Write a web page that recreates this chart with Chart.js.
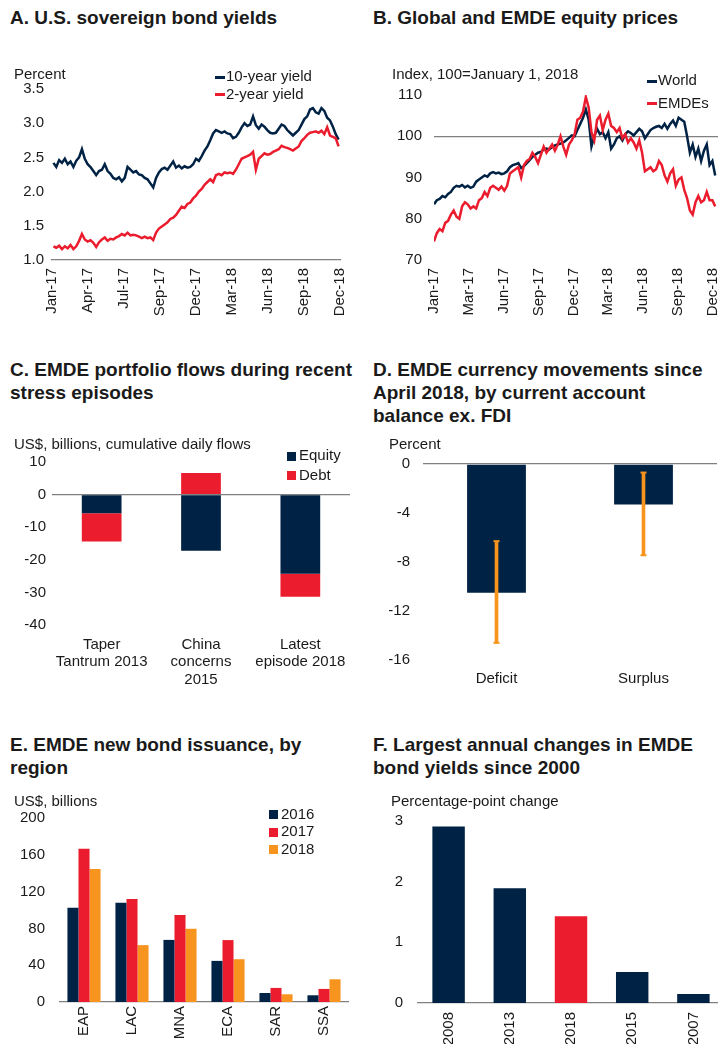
<!DOCTYPE html>
<html>
<head>
<meta charset="utf-8">
<script src="https://cdn.jsdelivr.net/npm/chart.js@4.4.1/dist/chart.umd.min.js"></script>
<style>
  body { margin: 0; width: 718px; height: 1044px; overflow: hidden; background: #fff; position: relative;
         font-family: Arial, "Liberation Sans", sans-serif; color: #1a1a1a; }
  .title { position: absolute; font-weight: bold; font-size: 19px; line-height: 23px; white-space: nowrap; }
  .box { position: absolute; }
  .leg { position: absolute; font-size: 15px; line-height: 18px; white-space: nowrap; }
  .leg i { display: inline-block; vertical-align: middle; }
</style>
</head>
<body>
<div class="title" style="left:10px;top:6px">A. U.S. sovereign bond yields</div>
<div class="title" style="left:373px;top:6px">B. Global and EMDE equity prices</div>
<div class="title" style="left:10px;top:358px">C. EMDE portfolio flows during recent<br>stress episodes</div>
<div class="title" style="left:373px;top:358px">D. EMDE currency movements since<br>April 2018, by current account<br>balance ex. FDI</div>
<div class="title" style="left:10px;top:733px">E. EMDE new bond issuance, by<br>region</div>
<div class="title" style="left:373px;top:733px">F. Largest annual changes in EMDE<br>bond yields since 2000</div>

<div class="box" style="left:0;top:60px;width:350px;height:262px"><canvas id="chartA"></canvas></div>
<div class="box" style="left:362px;top:60px;width:356px;height:262px"><canvas id="chartB"></canvas></div>
<div class="box" style="left:0;top:430px;width:355px;height:270px"><canvas id="chartC"></canvas></div>
<div class="box" style="left:362px;top:430px;width:361px;height:270px"><canvas id="chartD"></canvas></div>
<div class="box" style="left:0;top:790px;width:355px;height:254px"><canvas id="chartE"></canvas></div>
<div class="box" style="left:362px;top:790px;width:362px;height:270px"><canvas id="chartF"></canvas></div>

<script>
// A. US yields, weekly, Jan-17 .. Dec-18
const tickLabelsA = ['Jan-17', 'Apr-17', 'Jul-17', 'Sep-17', 'Dec-17', 'Mar-18', 'Jun-18', 'Sep-18', 'Dec-18'];
const tickWeeksA = [-0.5, 12.1, 24.75, 37.4, 50, 62.6, 75.25, 87.9, 100.5];
const yield10 = [
  2.42, 2.36, 2.46, 2.42, 2.48, 2.40, 2.44, 2.36, 2.45, 2.50,
  2.62, 2.48, 2.40, 2.36, 2.30, 2.24, 2.30, 2.32, 2.40, 2.30,
  2.26, 2.20, 2.18, 2.21, 2.15, 2.20, 2.36, 2.32, 2.28, 2.30,
  2.25, 2.24, 2.20, 2.18, 2.12, 2.06, 2.20, 2.28, 2.33, 2.35,
  2.32, 2.38, 2.44, 2.35, 2.38, 2.34, 2.37, 2.35, 2.36, 2.40,
  2.48, 2.45, 2.52, 2.60, 2.66, 2.75, 2.85, 2.90, 2.88, 2.86,
  2.88, 2.85, 2.84, 2.78, 2.80, 2.86, 2.94, 3.00, 2.96, 2.98,
  3.10, 2.97, 2.92, 2.98, 2.95, 2.90, 2.86, 2.85, 2.86, 2.92,
  2.98, 2.96, 2.90, 2.86, 2.82, 2.86, 2.90, 2.98, 3.06, 3.10,
  3.20, 3.22, 3.16, 3.14, 3.22, 3.18, 3.08, 3.04, 2.95, 2.84,
  2.76
];
const yield2 = [
  1.20, 1.18, 1.21, 1.16, 1.20, 1.17, 1.22, 1.16, 1.20, 1.28,
  1.38, 1.30, 1.27, 1.29, 1.25, 1.19, 1.26, 1.30, 1.33, 1.28,
  1.31, 1.30, 1.33, 1.35, 1.38, 1.36, 1.40, 1.36, 1.37, 1.36,
  1.34, 1.32, 1.34, 1.32, 1.33, 1.29, 1.40, 1.46, 1.49, 1.52,
  1.55, 1.60, 1.62, 1.66, 1.72, 1.78, 1.76, 1.82, 1.84, 1.90,
  1.94, 2.00, 2.04, 2.10, 2.14, 2.18, 2.14, 2.24, 2.26, 2.24,
  2.28, 2.27, 2.28, 2.26, 2.32, 2.40, 2.48, 2.50, 2.52, 2.54,
  2.58, 2.32, 2.48, 2.52, 2.56, 2.54, 2.55, 2.58, 2.60, 2.62,
  2.67, 2.65, 2.64, 2.62, 2.60, 2.63, 2.66, 2.74, 2.78, 2.83,
  2.86, 2.87, 2.88, 2.86, 2.89, 2.84, 2.94, 2.82, 2.80, 2.78,
  2.66
];

// B. equity prices, index 100 = Jan 1 2018, weekly
const tickLabelsB = ['Jan-17', 'Mar-17', 'Jun-17', 'Sep-17', 'Dec-17', 'Mar-18', 'Jun-18', 'Sep-18', 'Dec-18'];
const tickWeeksB = [0, 12.4, 24.8, 37.2, 49.6, 62, 74.4, 86.8, 99.2];
const world = [
  83.5, 84.5, 84.8, 85.5, 85.2, 86.0, 86.5, 87.5, 88.0, 87.8,
  88.2, 87.6, 88.0, 87.5, 87.8, 89.0, 89.5, 90.0, 90.5, 90.2,
  91.0, 91.3, 91.0, 91.2, 90.8, 91.0, 91.5, 92.5, 93.0, 93.2,
  93.5, 92.3, 92.8, 93.5, 94.2, 95.0, 95.5, 96.0, 96.2, 96.8,
  97.0, 96.8, 97.4, 97.8, 98.0, 98.2, 98.5, 99.0, 99.6, 100.2,
  100.0, 101.5, 103.0, 104.5, 106.5, 104.0, 97.5, 100.0, 101.8, 100.5,
  101.0, 99.5, 101.0, 97.0, 98.0, 99.5, 100.0, 99.0, 100.5, 101.2,
  100.8, 100.2, 101.0, 101.8, 101.2, 99.5, 100.5, 101.5, 102.0, 102.3,
  102.5, 102.0, 103.0, 101.8, 103.0, 103.8, 102.5, 104.5, 104.0, 103.5,
  100.0, 96.0, 98.0, 95.0, 97.0, 94.0, 96.5, 98.0, 93.0, 94.0,
  90.5
];
const emdes = [
  74.5, 76.5, 77.5, 77.0, 79.0, 79.5, 81.0, 82.0, 80.5, 80.0,
  83.0, 84.0, 83.5, 82.5, 83.0, 82.5, 84.5, 85.0, 86.5, 85.5,
  87.5, 88.0, 87.5, 87.0, 87.8, 86.8, 88.0, 91.0, 91.5, 92.0,
  92.5, 90.0, 93.0, 94.0, 94.5, 96.0, 95.0, 93.5, 95.5, 97.5,
  96.0, 97.0, 98.0, 96.5, 98.0, 100.0, 97.5, 95.5, 98.0, 99.0,
  100.5, 104.0, 104.5, 106.0, 109.5, 107.0, 101.0, 99.0, 104.0, 105.0,
  101.5, 104.0, 105.5, 102.5, 102.0, 101.0, 102.0, 99.5, 100.5, 98.5,
  99.5, 98.5, 97.0, 99.0, 96.0, 91.5, 92.0, 92.5, 91.5, 92.0,
  94.0, 93.0, 90.5, 89.0, 91.0, 92.0, 88.0, 89.5, 90.0, 87.0,
  85.0, 82.0, 81.0, 84.0, 85.5, 84.0, 84.5, 86.5, 84.5, 84.5,
  83.0
];

// C. portfolio flows
const episodes = [['Taper', 'Tantrum 2013'], ['China', 'concerns', '2015'], ['Latest', 'episode 2018']];
const equityFlows = [-5.7, -17.2, -24.3];
const debtFlows = [-8.7, 6.6, -7.0];

// D. currency movements
const balanceGroups = ['Deficit', 'Surplus'];
const currencyMove = [-10.5, -3.3];
const rangeHigh = [-6.3, -0.7];
const rangeLow = [-14.6, -7.45];

// E. bond issuance
const regions = ['EAP', 'LAC', 'MNA', 'ECA', 'SAR', 'SSA'];
const issuance2016 = [102.5, 108, 67.5, 44.7, 9.8, 7.3];
const issuance2017 = [166.5, 112, 94.5, 67.3, 15.3, 14.2];
const issuance2018 = [144.7, 61.8, 79.6, 46.5, 8.4, 24.7];

// F. yield changes
const changeYears = ['2008', '2013', '2018', '2015', '2007'];
const yieldChanges = [2.91, 1.89, 1.43, 0.51, 0.15];

const navy = '#002244', red = '#EB1C2D', orange = '#F7941D', axisGrey = '#808080', ink = '#1a1a1a';

Chart.defaults.font.family = 'Arial, "Liberation Sans", sans-serif';
Chart.defaults.font.size = 15;
Chart.defaults.color = ink;
Chart.defaults.animation = false;
Chart.defaults.responsive = true;
Chart.defaults.maintainAspectRatio = false;
Chart.defaults.plugins.legend.display = false;
Chart.defaults.plugins.tooltip.enabled = false;

function unitTitle(text, top, bottom) {
  return { display: true, text: text, align: 'start', color: ink,
           font: { size: 15, weight: 'normal' }, padding: { top: top, bottom: bottom } };
}
const fixWidth = w => s => { s.width = w; };
const fixHeight = h => s => { s.height = h; s.paddingLeft = 0; s.paddingRight = 0; };
const onlyAt = v => ctx => (ctx.tick && ctx.tick.value === v) ? axisGrey : 'rgba(0,0,0,0)';
const noGrid = { display: false, drawTicks: false };

function addLegend(chart, x, y, step, kind) {
  chart.data.datasets.forEach((ds, i) => {
    const d = document.createElement('div');
    d.className = 'leg';
    d.style.left = x + 'px';
    d.style.top = (y + i * step - 9) + 'px';
    const mark = document.createElement('i');
    const col = kind === 'line' ? ds.borderColor : ds.backgroundColor;
    mark.style.cssText = kind === 'line'
      ? 'width:10px;height:3px;margin-right:1px;background:' + col
      : 'width:9px;height:9px;margin-right:3px;background:' + col;
    d.appendChild(mark);
    d.appendChild(document.createTextNode(ds.label));
    document.body.appendChild(d);
  });
}

// ---- A ----
const chartA = new Chart(document.getElementById('chartA'), {
  type: 'line',
  data: {
    datasets: [
      { label: '10-year yield', data: yield10.map((y, i) => ({ x: i, y: y })), borderColor: navy, order: 1 },
      { label: '2-year yield', data: yield2.map((y, i) => ({ x: i, y: y })), borderColor: red, order: 0 }
    ]
  },
  options: {
    layout: { padding: { left: 14, right: 10 } },
    elements: { point: { radius: 0 }, line: { borderWidth: 2.5, tension: 0 } },
    plugins: { title: unitTitle('Percent', 6, 5) },
    scales: {
      x: {
        type: 'linear', min: -0.5, max: 100.5,
        afterBuildTicks: s => { s.ticks = tickWeeksA.map(v => ({ value: v })); },
        afterFit: fixHeight(62),
        grid: noGrid,
        border: { color: axisGrey, width: 1.3 },
        ticks: { autoSkip: false, minRotation: 90, maxRotation: 90, padding: 8, callback: (v, i) => tickLabelsA[i] }
      },
      y: {
        min: 1, max: 3.5, afterFit: fixWidth(38), grid: noGrid, border: { display: false },
        ticks: { stepSize: 0.5, padding: 8, callback: v => v.toFixed(1) }
      }
    }
  }
});
addLegend(chartA, 215, 76, 17.6, 'line');

// ---- B ----
const chartB = new Chart(document.getElementById('chartB'), {
  type: 'line',
  data: {
    datasets: [
      { label: 'World', data: world.map((y, i) => ({ x: i, y: y })), borderColor: navy, order: 1 },
      { label: 'EMDEs', data: emdes.map((y, i) => ({ x: i, y: y })), borderColor: red, order: 0 }
    ]
  },
  options: {
    layout: { padding: { left: 30, right: 0 } },
    elements: { point: { radius: 0 }, line: { borderWidth: 2.5, tension: 0 } },
    plugins: { title: unitTitle('Index, 100=January 1, 2018', 6, 11) },
    scales: {
      x: {
        type: 'linear', min: 0, max: 101,
        afterBuildTicks: s => { s.ticks = tickWeeksB.map(v => ({ value: v })); },
        afterFit: fixHeight(62),
        grid: noGrid,
        border: { display: false },
        ticks: { autoSkip: false, minRotation: 90, maxRotation: 90, padding: 8, callback: (v, i) => tickLabelsB[i] }
      },
      y: {
        min: 70, max: 110, afterFit: fixWidth(42),
        grid: { color: onlyAt(100), drawTicks: false, lineWidth: 1.3 },
        border: { display: false },
        ticks: { stepSize: 10, padding: 12 }
      }
    }
  }
});
addLegend(chartB, 647, 80, 22.7, 'line');

// ---- C ----
const chartC = new Chart(document.getElementById('chartC'), {
  type: 'bar',
  data: {
    labels: episodes,
    datasets: [
      { label: 'Equity', data: equityFlows, backgroundColor: navy },
      { label: 'Debt', data: debtFlows, backgroundColor: red }
    ]
  },
  options: {
    layout: { padding: { left: 14, right: 5 } },
    datasets: { bar: { barPercentage: 0.4, categoryPercentage: 1 } },
    plugins: { title: unitTitle('US$, billions, cumulative daily flows', 6, 8) },
    scales: {
      x: {
        stacked: true, afterFit: fixHeight(75), grid: noGrid, border: { display: false },
        ticks: { padding: 11, font: { lineHeight: 1.17 } }
      },
      y: {
        stacked: true, min: -40, max: 10, afterFit: fixWidth(38),
        grid: { color: onlyAt(0), drawTicks: false, lineWidth: 1.3 },
        border: { display: false },
        ticks: { stepSize: 10, padding: 6 }
      }
    }
  }
});
addLegend(chartC, 287, 455, 19.7, 'box');

// ---- D ----
new Chart(document.getElementById('chartD'), {
  type: 'bar',
  data: {
    labels: balanceGroups,
    datasets: [
      { type: 'line', data: rangeHigh, showLine: false, pointStyle: 'line', pointRadius: 3,
        borderColor: orange, borderWidth: 2, order: 0 },
      { type: 'line', data: rangeLow, showLine: false, pointStyle: 'line', pointRadius: 3,
        borderColor: orange, borderWidth: 2, order: 0 },
      { data: rangeHigh.map((h, i) => [h, rangeLow[i]]), backgroundColor: orange,
        barThickness: 3, grouped: false, order: 1 },
      { data: currencyMove, backgroundColor: navy, barPercentage: 0.4, categoryPercentage: 1,
        grouped: false, order: 2 }
    ]
  },
  options: {
    layout: { padding: { left: 27, right: 0 } },
    plugins: { title: unitTitle('Percent', 6, 10) },
    scales: {
      x: { afterFit: fixHeight(40), grid: noGrid, border: { display: false }, ticks: { padding: 10 } },
      y: {
        min: -16, max: 0, afterFit: fixWidth(34),
        grid: { color: onlyAt(0), drawTicks: false, lineWidth: 1.3 },
        border: { display: false },
        ticks: { stepSize: 4, padding: 13 }
      }
    }
  }
});

// ---- E ----
const chartE = new Chart(document.getElementById('chartE'), {
  type: 'bar',
  data: {
    labels: regions,
    datasets: [
      { label: '2016', data: issuance2016, backgroundColor: navy },
      { label: '2017', data: issuance2017, backgroundColor: red },
      { label: '2018', data: issuance2018, backgroundColor: orange }
    ]
  },
  options: {
    layout: { padding: { left: 14, right: 7 } },
    datasets: { bar: { barPercentage: 1, categoryPercentage: 0.69 } },
    plugins: { title: unitTitle('US$, billions', 3, 7) },
    scales: {
      x: {
        afterFit: fixHeight(42), grid: noGrid, border: { color: axisGrey, width: 1.3 },
        ticks: { minRotation: 90, maxRotation: 90, padding: 4 }
      },
      y: {
        min: 0, max: 200, afterFit: fixWidth(46), grid: noGrid, border: { display: false },
        ticks: { stepSize: 40, padding: 15 }
      }
    }
  }
});
addLegend(chartE, 269, 813.5, 17.5, 'box');

// ---- F ----
new Chart(document.getElementById('chartF'), {
  type: 'bar',
  data: {
    labels: changeYears,
    datasets: [
      { data: yieldChanges, backgroundColor: changeYears.map(y => y === '2018' ? red : navy),
        barPercentage: 0.53, categoryPercentage: 1 }
    ]
  },
  options: {
    layout: { padding: { left: 29, right: 0 } },
    plugins: { title: unitTitle('Percentage-point change', 3, 10) },
    scales: {
      x: {
        afterFit: fixHeight(57), grid: noGrid, border: { color: axisGrey, width: 1.3 },
        ticks: { minRotation: 90, maxRotation: 90, padding: 9 }
      },
      y: {
        min: 0, max: 3, afterFit: fixWidth(27), grid: noGrid, border: { display: false },
        ticks: { stepSize: 1, padding: 15 }
      }
    }
  }
});
</script>
</body>
</html>
